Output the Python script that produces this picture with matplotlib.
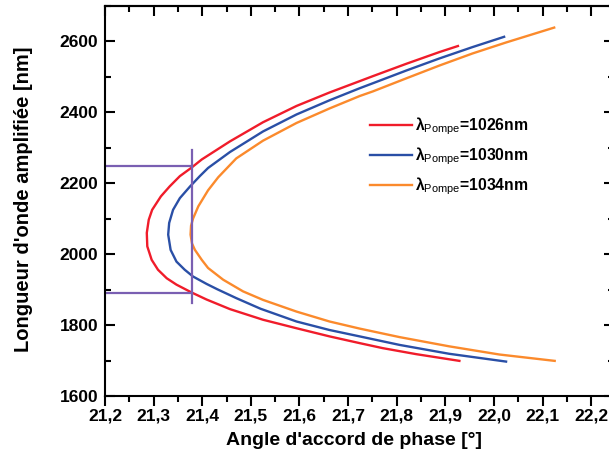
import numpy as np
import matplotlib
matplotlib.use('Agg')
import matplotlib.pyplot as plt
from matplotlib.ticker import MultipleLocator

plt.rcParams['font.family'] = ['Liberation Sans', 'DejaVu Sans']
plt.rcParams['mathtext.fontset'] = 'custom'
plt.rcParams['mathtext.rm'] = 'Liberation Sans'
plt.rcParams['mathtext.bf'] = 'Liberation Sans:bold'

# 读图得到的数据: (相位匹配角 [°], 放大波长 [nm])
angle_1026 = [21.926, 21.888, 21.820, 21.751, 21.724, 21.662, 21.594, 21.525, 21.457, 21.399,
              21.378, 21.354, 21.333, 21.315, 21.297, 21.290, 21.286, 21.287, 21.296, 21.309,
              21.327, 21.347, 21.378, 21.409, 21.457, 21.525, 21.594, 21.662, 21.724, 21.771,
              21.840, 21.929]
wl_1026 = [2587, 2570, 2537, 2502, 2488, 2456, 2418, 2372, 2318, 2267,
           2244, 2220, 2191, 2163, 2125, 2097, 2060, 2022, 1984, 1956,
           1932, 1914, 1892, 1872, 1845, 1815, 1791, 1768, 1749, 1735,
           1718, 1699]

angle_1030 = [22.021, 21.956, 21.888, 21.820, 21.751, 21.724, 21.662, 21.594, 21.525, 21.457,
              21.412, 21.395, 21.375, 21.354, 21.340, 21.332, 21.330, 21.335, 21.347, 21.364,
              21.381, 21.409, 21.431, 21.470, 21.520, 21.594, 21.662, 21.724, 21.806, 21.908,
              22.025]
wl_1030 = [2613, 2584, 2552, 2518, 2482, 2468, 2434, 2394, 2346, 2288,
           2243, 2220, 2191, 2158, 2125, 2088, 2055, 2012, 1979, 1956,
           1937, 1916, 1901, 1876, 1846, 1810, 1786, 1768, 1744, 1719,
           1697]

angle_1034 = [22.124, 22.025, 21.956, 21.888, 21.820, 21.751, 21.724, 21.662, 21.594, 21.525,
              21.470, 21.433, 21.412, 21.392, 21.381, 21.377, 21.376, 21.379, 21.385, 21.399,
              21.412, 21.443, 21.484, 21.525, 21.594, 21.662, 21.724, 21.806, 21.908, 22.011,
              22.125]
wl_1034 = [2639, 2597, 2566, 2532, 2496, 2459, 2446, 2411, 2370, 2320,
           2270, 2217, 2180, 2135, 2100, 2080, 2055, 2030, 2012, 1984,
           1961, 1928, 1895, 1871, 1838, 1810, 1790, 1766, 1740, 1717,
           1699]

labels = ['1026nm', '1030nm', '1034nm']

# 紫色标记线
mark_angle = 21.378
mark_wl_low = 1891
mark_wl_high = 2250
mark_v = [1862, 2293]

fig = plt.figure(figsize=(6.09, 4.69), dpi=100)
ax = fig.add_axes([0.1724, 0.1557, 0.8358, 0.8316])

colors = ['#f01c2a', '#2a4fa6', '#fb8a2c']
for ang, wl, c, lab in zip([angle_1026, angle_1030, angle_1034],
                           [wl_1026, wl_1030, wl_1034], colors, labels):
    ax.plot(ang, wl, color=c, lw=1.7, solid_joinstyle='round',
            label='λ$_{\\mathrm{Pompe}}$' + '=' + lab)

purple = '#7a5fb2'
ax.plot([21.2, mark_angle], [mark_wl_high, mark_wl_high], color=purple, lw=1.6)
ax.plot([21.2, mark_angle], [mark_wl_low, mark_wl_low], color=purple, lw=1.6)
ax.plot([mark_angle, mark_angle], mark_v, color=purple, lw=1.6)

ax.set_xlim(21.2, 22.247)
ax.set_ylim(1600, 2700)

xt = np.arange(21.2, 22.21, 0.1)
ax.set_xticks(xt)
ax.set_xticklabels([('%.1f' % v).replace('.', ',') for v in xt])
ax.xaxis.set_minor_locator(MultipleLocator(0.05))
ax.yaxis.set_major_locator(MultipleLocator(200))
ax.yaxis.set_minor_locator(MultipleLocator(100))

for sp in ax.spines.values():
    sp.set_linewidth(1.5)

ax.tick_params(axis='x', which='major', direction='out', length=7, width=1.5, pad=2,
               labelsize=12.5)
ax.tick_params(axis='x', which='minor', direction='out', length=4, width=1.5)
ax.tick_params(axis='y', which='major', direction='in', length=7, width=1.5, pad=5,
               labelsize=12.5, right=True)
ax.tick_params(axis='y', which='minor', direction='in', length=4, width=1.5, right=True)
for t in ax.get_xticklabels() + ax.get_yticklabels():
    t.set_fontweight('bold')

top = ax.secondary_xaxis('top')
top.xaxis.set_major_locator(MultipleLocator(0.1))
top.xaxis.set_minor_locator(MultipleLocator(0.05))
top.tick_params(which='major', direction='in', length=7, width=1.5, labeltop=False)
top.tick_params(which='minor', direction='in', length=4, width=1.5)
top.spines['top'].set_linewidth(1.5)

ax.set_xlabel("Angle d'accord de phase [°]", fontsize=14, fontweight='bold')
ax.set_ylabel("Longueur d'onde amplifiée [nm]", fontsize=14.5, fontweight='bold')
ax.xaxis.set_label_coords(0.49, -0.093)
ax.yaxis.set_label_coords(-0.142, 0.505)

leg = ax.legend(loc='upper left', bbox_to_anchor=(0.52, 0.72), frameon=False,
                prop={'weight': 'bold', 'size': 11.3}, handlelength=2.7,
                handletextpad=0.2, labelspacing=0.55, borderpad=0, borderaxespad=0)

fig.savefig('out.png', dpi=100)
